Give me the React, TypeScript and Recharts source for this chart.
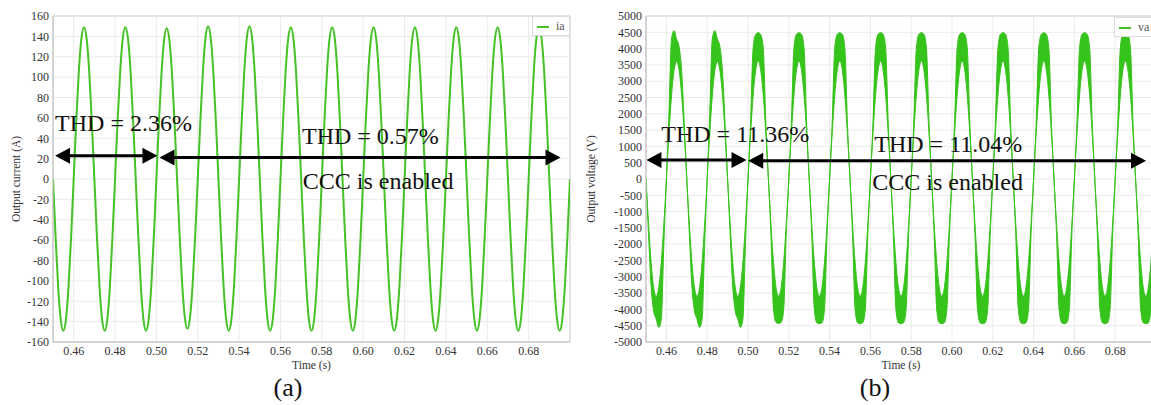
import React from 'react';
import {
  ComposedChart,
  Line,
  Area,
  XAxis,
  YAxis,
  CartesianGrid,
  ReferenceArea,
  ReferenceLine,
  ReferenceDot,
} from 'recharts';

// ---------- sampling grid (simulation time step) ----------
const T0 = 0.45;
const DT = 0.00125;

// ---------- (a) output current ia (A) ----------
const ia: number[] = [
  0, -57, -106, -138, -149, -138, -106, -57, 0, 57, 106, 138, 149, 138, 106, 57,
  0, -57, -106, -138, -149, -138, -106, -57, 0, 57, 106, 138, 149, 138, 106, 57,
  0, -57, -106, -138, -149, -138, -106, -57, 0, 57, 105, 137, 148, 137, 105, 57,
  0, -56, -104, -136, -147, -136, -104, -56, 0, 57, 106, 139, 150, 139, 106, 57,
  0, -57, -106, -138, -149, -138, -106, -57, 0, 57, 106, 139, 150, 139, 106, 57,
  0, -57, -106, -138, -149, -138, -106, -57, 0, 57, 106, 138, 149, 138, 106, 57,
  0, -57, -106, -138, -149, -138, -106, -57, 0, 57, 106, 138, 149, 138, 106, 57,
  0, -57, -106, -138, -149, -138, -106, -57, 0, 57, 106, 138, 149, 138, 106, 57,
  0, -57, -106, -138, -149, -138, -106, -57, 0, 57, 106, 138, 149, 138, 106, 57,
  0, -57, -106, -138, -149, -138, -106, -57, 0, 57, 106, 138, 149, 138, 106, 57,
  0, -57, -106, -138, -149, -138, -106, -57, 0, 57, 106, 138, 149, 138, 106, 57,
  0, -57, -106, -138, -149, -138, -106, -57, 0, 57, 106, 138, 149, 138, 106, 57,
  0, -57, -106, -138, -149, -138, -106, -57, 0,
];

// ---------- (b) output voltage va (V): switching band, lower / upper envelope ----------
const vaLow: number[] = [
  0, -1700, -3300, -4050, -4300, -4550, -4300, -2000, 0, 1380, 2545, 3325, 3600, 3325, 2545, 1380,
  0, -1700, -3300, -4050, -4300, -4550, -4300, -2000, 0, 1380, 2545, 3325, 3600, 3325, 2545, 1380,
  0, -1700, -3300, -4050, -4300, -4550, -4300, -2000, 0, 1380, 2545, 3325, 3620, 3325, 2545, 1380,
  0, -1700, -4000, -4400, -4430, -4400, -4000, -1700, 0, 1380, 2545, 3325, 3620, 3325, 2545, 1380,
  0, -1700, -4000, -4410, -4440, -4410, -4000, -1700, 0, 1380, 2545, 3325, 3620, 3325, 2545, 1380,
  0, -1700, -4000, -4410, -4440, -4410, -4000, -1700, 0, 1380, 2545, 3325, 3620, 3325, 2545, 1380,
  0, -1700, -4000, -4410, -4440, -4410, -4000, -1700, 0, 1380, 2545, 3325, 3620, 3325, 2545, 1380,
  0, -1700, -4000, -4410, -4440, -4410, -4000, -1700, 0, 1380, 2545, 3325, 3620, 3325, 2545, 1380,
  0, -1700, -4000, -4410, -4440, -4410, -4000, -1700, 0, 1380, 2545, 3325, 3620, 3325, 2545, 1380,
  0, -1700, -4000, -4410, -4440, -4410, -4000, -1700, 0, 1380, 2545, 3325, 3620, 3325, 2545, 1380,
  0, -1700, -4000, -4410, -4440, -4410, -4000, -1700, 0, 1380, 2545, 3325, 3620, 3325, 2545, 1380,
  0, -1700, -4000, -4410, -4440, -4410, -4000, -1700, 0, 1380, 2545, 3325, 3620, 3325, 2545, 1380,
  0, -1700, -4000, -4410, -4440, -4410, -4000, -1700, 0,
];

const vaHigh: number[] = [
  0, -1380, -2545, -3325, -3600, -3325, -2545, -1380, 0, 2000, 4300, 4550, 4300, 4050, 3300, 1700,
  0, -1380, -2545, -3325, -3600, -3325, -2545, -1380, 0, 2000, 4300, 4550, 4300, 4050, 3300, 1700,
  0, -1380, -2545, -3325, -3600, -3325, -2545, -1380, 0, 1700, 4000, 4430, 4490, 4430, 4000, 1700,
  0, -1380, -2545, -3325, -3590, -3325, -2545, -1380, 0, 1700, 4000, 4440, 4490, 4440, 4000, 1700,
  0, -1380, -2545, -3325, -3590, -3325, -2545, -1380, 0, 1700, 4000, 4440, 4490, 4440, 4000, 1700,
  0, -1380, -2545, -3325, -3590, -3325, -2545, -1380, 0, 1700, 4000, 4440, 4490, 4440, 4000, 1700,
  0, -1380, -2545, -3325, -3590, -3325, -2545, -1380, 0, 1700, 4000, 4440, 4490, 4440, 4000, 1700,
  0, -1380, -2545, -3325, -3590, -3325, -2545, -1380, 0, 1700, 4000, 4440, 4490, 4440, 4000, 1700,
  0, -1380, -2545, -3325, -3590, -3325, -2545, -1380, 0, 1700, 4000, 4440, 4490, 4440, 4000, 1700,
  0, -1380, -2545, -3325, -3590, -3325, -2545, -1380, 0, 1700, 4000, 4440, 4490, 4440, 4000, 1700,
  0, -1380, -2545, -3325, -3590, -3325, -2545, -1380, 0, 1700, 4000, 4440, 4490, 4440, 4000, 1700,
  0, -1380, -2545, -3325, -3590, -3325, -2545, -1380, 0, 1700, 4000, 4440, 4490, 4440, 4000, 1700,
  0, -1380, -2545, -3325, -3590, -3325, -2545, -1380, 0,
];

// ---------- ticks ----------
const xTicks = [0.46, 0.48, 0.5, 0.52, 0.54, 0.56, 0.58, 0.6, 0.62, 0.64, 0.66, 0.68];
const iTicks = [-160, -140, -120, -100, -80, -60, -40, -20, 0, 20, 40, 60, 80, 100, 120, 140, 160];
const vTicks = [
  -5000, -4500, -4000, -3500, -3000, -2500, -2000, -1500, -1000, -500, 0,
  500, 1000, 1500, 2000, 2500, 3000, 3500, 4000, 4500, 5000,
];

// ---------- annotations (data coordinates) ----------
const arrowsA = [
  { x1: 0.451, x2: 0.5005, y: 22.9 },
  { x1: 0.5015, x2: 0.6954, y: 21.1 },
];
const textsA = [
  { x: 0.451, y: 47.1, text: 'THD = 2.36%' },
  { x: 0.5704, y: 34.4, text: 'THD = 0.57%' },
  { x: 0.5708, y: -9.8, text: 'CCC is enabled' },
];
const arrowsB = [
  { x1: 0.4502, x2: 0.4993, y: 580 },
  { x1: 0.5001, x2: 0.6951, y: 560 },
];
const textsB = [
  { x: 0.4575, y: 1133, text: 'THD = 11.36%' },
  { x: 0.5619, y: 827, text: 'THD = 11.04%' },
  { x: 0.5609, y: -337, text: 'CCC is enabled' },
];

const currentData = ia.map((v, i) => ({ t: +(T0 + i * DT).toFixed(5), ia: v }));
const voltageData = vaLow.map((lo, i) => ({ t: +(T0 + i * DT).toFixed(5), va: [lo, vaHigh[i]] }));

const SERIF = '"Liberation Serif", "Times New Roman", Times, serif';
const GREEN_A = '#44c226';
const GREEN_B = '#36c31b';
const GRID = '#ebebeb';
const AXIS = '#c4c4c4';

const fmt = (v: number) => v.toFixed(2);

function ArrowShape(props: any) {
  const { x1, y1, x2 } = props;
  const L = 15;
  const H = 8;
  const left = Math.min(x1, x2);
  const right = Math.max(x1, x2);
  const y = y1;
  return (
    <g>
      <line x1={left + L - 2} y1={y} x2={right - L + 2} y2={y} stroke="#000" strokeWidth={3} />
      <polygon points={`${left},${y} ${left + L},${y - H} ${left + L},${y + H}`} fill="#000" />
      <polygon points={`${right},${y} ${right - L},${y - H} ${right - L},${y + H}`} fill="#000" />
    </g>
  );
}

const makeText = (s: string) => (p: any) => (
  <text x={p.cx} y={p.cy} fontFamily={SERIF} fontSize={24} fill="#111">
    {s}
  </text>
);

const tickStyle = { fill: '#333', fontSize: 12, fontFamily: SERIF };
const axisLabelStyle = { fontSize: 11.5, fontFamily: SERIF, fill: '#333' };

function LegendBox({ left, top, name }: { left: number; top: number; name: string }) {
  return (
    <div
      style={{
        position: 'absolute',
        left,
        top,
        width: 38,
        height: 20,
        border: '1px solid #dcdcdc',
        background: '#fff',
        boxSizing: 'border-box',
      }}
    >
      <div style={{ position: 'absolute', left: 4, top: 9, width: 12, height: 2, background: GREEN_A }} />
      <div
        style={{
          position: 'absolute',
          left: 23,
          top: 2,
          fontFamily: SERIF,
          fontSize: 12,
          color: '#555',
          lineHeight: '14px',
        }}
      >
        {name}
      </div>
    </div>
  );
}

export default function App() {
  return (
    <div
      style={{
        position: 'absolute',
        left: 0,
        top: 0,
        width: 1151,
        height: 405,
        overflow: 'hidden',
        background: '#fff',
      }}
    >
      {/* Panel (a) */}
      <div style={{ position: 'absolute', left: 0, top: 0 }}>
        <ComposedChart
          width={580}
          height={405}
          data={currentData}
          margin={{ top: 16, right: 10, bottom: 33, left: 0 }}
        >
          <CartesianGrid stroke={GRID} />
          <XAxis
            type="number"
            dataKey="t"
            domain={[0.45, 0.7]}
            ticks={xTicks}
            interval={0}
            tickFormatter={fmt}
            allowDataOverflow
            height={30}
            tickLine={false}
            tickSize={0}
            tickMargin={4}
            axisLine={{ stroke: AXIS }}
            tick={tickStyle}
            label={{ value: 'Time (s)', position: 'insideBottom', offset: 3, style: axisLabelStyle }}
          />
          <YAxis
            type="number"
            domain={[-160, 160]}
            ticks={iTicks}
            interval={0}
            allowDataOverflow
            width={53}
            tickLine={false}
            tickSize={0}
            tickMargin={4}
            axisLine={{ stroke: AXIS }}
            tick={tickStyle}
            label={{
              value: 'Output current (A)',
              angle: -90,
              position: 'insideLeft',
              offset: 16,
              style: { ...axisLabelStyle, textAnchor: 'middle' },
            }}
          />
          <ReferenceArea x1={0.45} x2={0.7} y1={-160} y2={160} fill="none" stroke="#d2d2d2" />
          <Line
            type="monotone"
            dataKey="ia"
            stroke={GREEN_A}
            strokeWidth={2}
            dot={false}
            isAnimationActive={false}
          />
          {arrowsA.map((a, i) => (
            <ReferenceLine
              key={'aa' + i}
              segment={[
                { x: a.x1, y: a.y },
                { x: a.x2, y: a.y },
              ]}
              shape={ArrowShape}
            />
          ))}
          {textsA.map((t, i) => (
            <ReferenceDot key={'ta' + i} x={t.x} y={t.y} r={1} shape={makeText(t.text)} />
          ))}
        </ComposedChart>
        <LegendBox left={532} top={16} name="ia" />
      </div>

      {/* Panel (b) */}
      <div style={{ position: 'absolute', left: 580, top: 0, width: 600, height: 405 }}>
        <ComposedChart
          width={600}
          height={405}
          data={voltageData}
          margin={{ top: 16, right: 24, bottom: 33, left: 0 }}
        >
          <CartesianGrid stroke={GRID} />
          <XAxis
            type="number"
            dataKey="t"
            domain={[0.45, 0.7]}
            ticks={xTicks}
            interval={0}
            tickFormatter={fmt}
            allowDataOverflow
            height={30}
            tickLine={false}
            tickSize={0}
            tickMargin={4}
            axisLine={{ stroke: AXIS }}
            tick={tickStyle}
            label={{ value: 'Time (s)', position: 'insideBottom', offset: 3, style: axisLabelStyle }}
          />
          <YAxis
            type="number"
            domain={[-5000, 5000]}
            ticks={vTicks}
            interval={0}
            allowDataOverflow
            width={66}
            tickLine={false}
            tickSize={0}
            tickMargin={4}
            axisLine={{ stroke: AXIS }}
            tick={tickStyle}
            label={{
              value: 'Output voltage (V)',
              angle: -90,
              position: 'insideLeft',
              offset: 11,
              style: { ...axisLabelStyle, textAnchor: 'middle' },
            }}
          />
          <ReferenceArea x1={0.45} x2={0.7} y1={-5000} y2={5000} fill="none" stroke="#d2d2d2" />
          <Area
            type="monotone"
            dataKey="va"
            stroke={GREEN_B}
            strokeWidth={1}
            fill={GREEN_B}
            fillOpacity={1}
            dot={false}
            activeDot={false}
            isAnimationActive={false}
          />
          {arrowsB.map((a, i) => (
            <ReferenceLine
              key={'ab' + i}
              segment={[
                { x: a.x1, y: a.y },
                { x: a.x2, y: a.y },
              ]}
              shape={ArrowShape}
            />
          ))}
          {textsB.map((t, i) => (
            <ReferenceDot key={'tb' + i} x={t.x} y={t.y} r={1} shape={makeText(t.text)} />
          ))}
        </ComposedChart>
        <LegendBox left={534} top={17} name="va" />
      </div>

      {/* captions */}
      <div
        style={{
          position: 'absolute',
          left: 238,
          width: 100,
          top: 374,
          textAlign: 'center',
          fontFamily: SERIF,
          fontSize: 26,
          lineHeight: '28px',
          color: '#111',
        }}
      >
        (a)
      </div>
      <div
        style={{
          position: 'absolute',
          left: 825,
          width: 100,
          top: 374,
          textAlign: 'center',
          fontFamily: SERIF,
          fontSize: 26,
          lineHeight: '28px',
          color: '#111',
        }}
      >
        (b)
      </div>
    </div>
  );
}
